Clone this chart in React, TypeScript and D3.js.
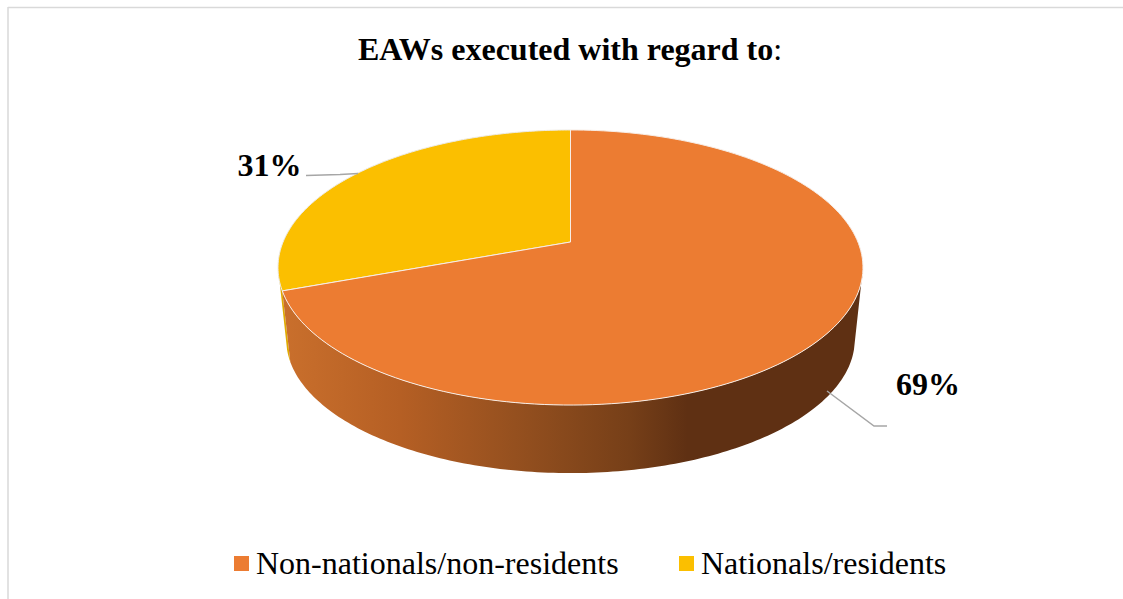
import React from "react";
import * as d3 from "d3";

const categories = ["Non-nationals/non-residents", "Nationals/residents"];
const values = [69.4, 30.6];
const labels = ["69%", "31%"];
const topColors = ["#EC7C32", "#FBBF00"];
const titleBold = "EAWs executed with regard to";
const titleTail = ":";

const W = 1123;
const H = 599;
const FONT = "'Liberation Serif', 'Times New Roman', serif";

// perspective projection of the unit pie disc onto the screen
const CX = 570.5;
const CY = 242;
const K = -0.1855;
const A = 287.4;
const B = 132.8;
const SHRINK = 0.972;
const DROP = 72.6;
const DEG = Math.PI / 180;

function project(angle: number, depth: number): [number, number] {
  const x = Math.sin(angle);
  const y = -Math.cos(angle);
  const w = 1 + K * y;
  const px = (A * x) / w;
  const py = (B * y) / w;
  const s = depth ? SHRINK : 1;
  return [CX + px * s, CY + py * s + (depth ? DROP : 0)];
}

function arcPoints(a0: number, a1: number, depth: number, n = 160): [number, number][] {
  return d3.range(n + 1).map((i) => project(a0 + ((a1 - a0) * i) / n, depth));
}

const line = d3.line<[number, number]>();

// side wall: top rim from topA0 to topA1, then bottom rim back from botA1 to botA0
function wallPath(topA0: number, topA1: number, botA0: number, botA1: number): string {
  const topEdge = arcPoints(topA0, topA1, 0);
  const bottomEdge = arcPoints(botA1, botA0, 1);
  return (line([...topEdge, ...bottomEdge]) as string) + "Z";
}

function slicePath(a0: number, a1: number): string {
  return (line([[CX, CY], ...arcPoints(a0, a1, 0)]) as string) + "Z";
}

export default function App() {
  const pieGen = d3.pie<number>().sort(null).value((d) => d);
  const arcs = pieGen(values);
  const orange = arcs[0];
  const yellow = arcs[1];
  const RIGHT_TOP = 100.7 * DEG;
  const RIGHT_BOT = 105 * DEG;
  const LEFT_TOP = 259.3 * DEG;
  const LEFT_BOT = 255 * DEG;

  return (
    <svg
      width={W}
      height={H}
      viewBox={`0 0 ${W} ${H}`}
      style={{ position: "absolute", left: 0, top: 0, background: "#fff" }}
      fontFamily={FONT}
    >
      <defs>
        <linearGradient id="wallOrange" gradientUnits="userSpaceOnUse" x1={285} x2={860} y1={0} y2={0}>
          <stop offset="0" stopColor="#C96F2C" />
          <stop offset="0.2" stopColor="#B55F24" />
          <stop offset="0.4" stopColor="#95501F" />
          <stop offset="0.6" stopColor="#763F18" />
          <stop offset="0.7" stopColor="#5F3013" />
          <stop offset="1" stopColor="#5F3013" />
        </linearGradient>
      </defs>

      <line x1={8} y1={7.5} x2={W} y2={7.5} stroke="#D9D9D9" strokeWidth={1.5} />
      <line x1={8} y1={7} x2={8} y2={H} stroke="#D9D9D9" strokeWidth={1.5} />

      <text x={570} y={60} textAnchor="middle" fontSize={32} fill="#000">
        <tspan fontWeight="bold">{titleBold}</tspan>
        <tspan>{titleTail}</tspan>
      </text>

      <path d={wallPath(orange.endAngle, LEFT_TOP, orange.endAngle, LEFT_BOT)} fill="#E0AA00" />
      <path d={wallPath(RIGHT_TOP, orange.endAngle, RIGHT_BOT, orange.endAngle)} fill="url(#wallOrange)" />

      <path d={slicePath(yellow.startAngle, yellow.endAngle)} fill={topColors[1]} stroke="#EDEBE6" strokeWidth={1} />
      <path d={slicePath(orange.startAngle, orange.endAngle)} fill={topColors[0]} stroke="#F7EDE6" strokeWidth={1} />

      <polyline points="306,175.5 340,174.5 358,173.5" fill="none" stroke="#A6A6A6" strokeWidth={1.5} />
      <polyline points="827,391 874,426 887,426" fill="none" stroke="#A6A6A6" strokeWidth={1.5} />

      <text x={269.5} y={176} textAnchor="middle" fontSize={32} fontWeight="bold" fill="#000">
        {labels[1]}
      </text>
      <text x={928} y={395} textAnchor="middle" fontSize={32} fontWeight="bold" fill="#000">
        {labels[0]}
      </text>

      {categories.map((c, i) => (
        <g key={c}>
          <rect x={i === 0 ? 234 : 679} y={556} width={15} height={15} fill={topColors[i]} />
          <text x={i === 0 ? 256 : 701} y={574} fontSize={32} fill="#000">
            {c}
          </text>
        </g>
      ))}
    </svg>
  );
}
